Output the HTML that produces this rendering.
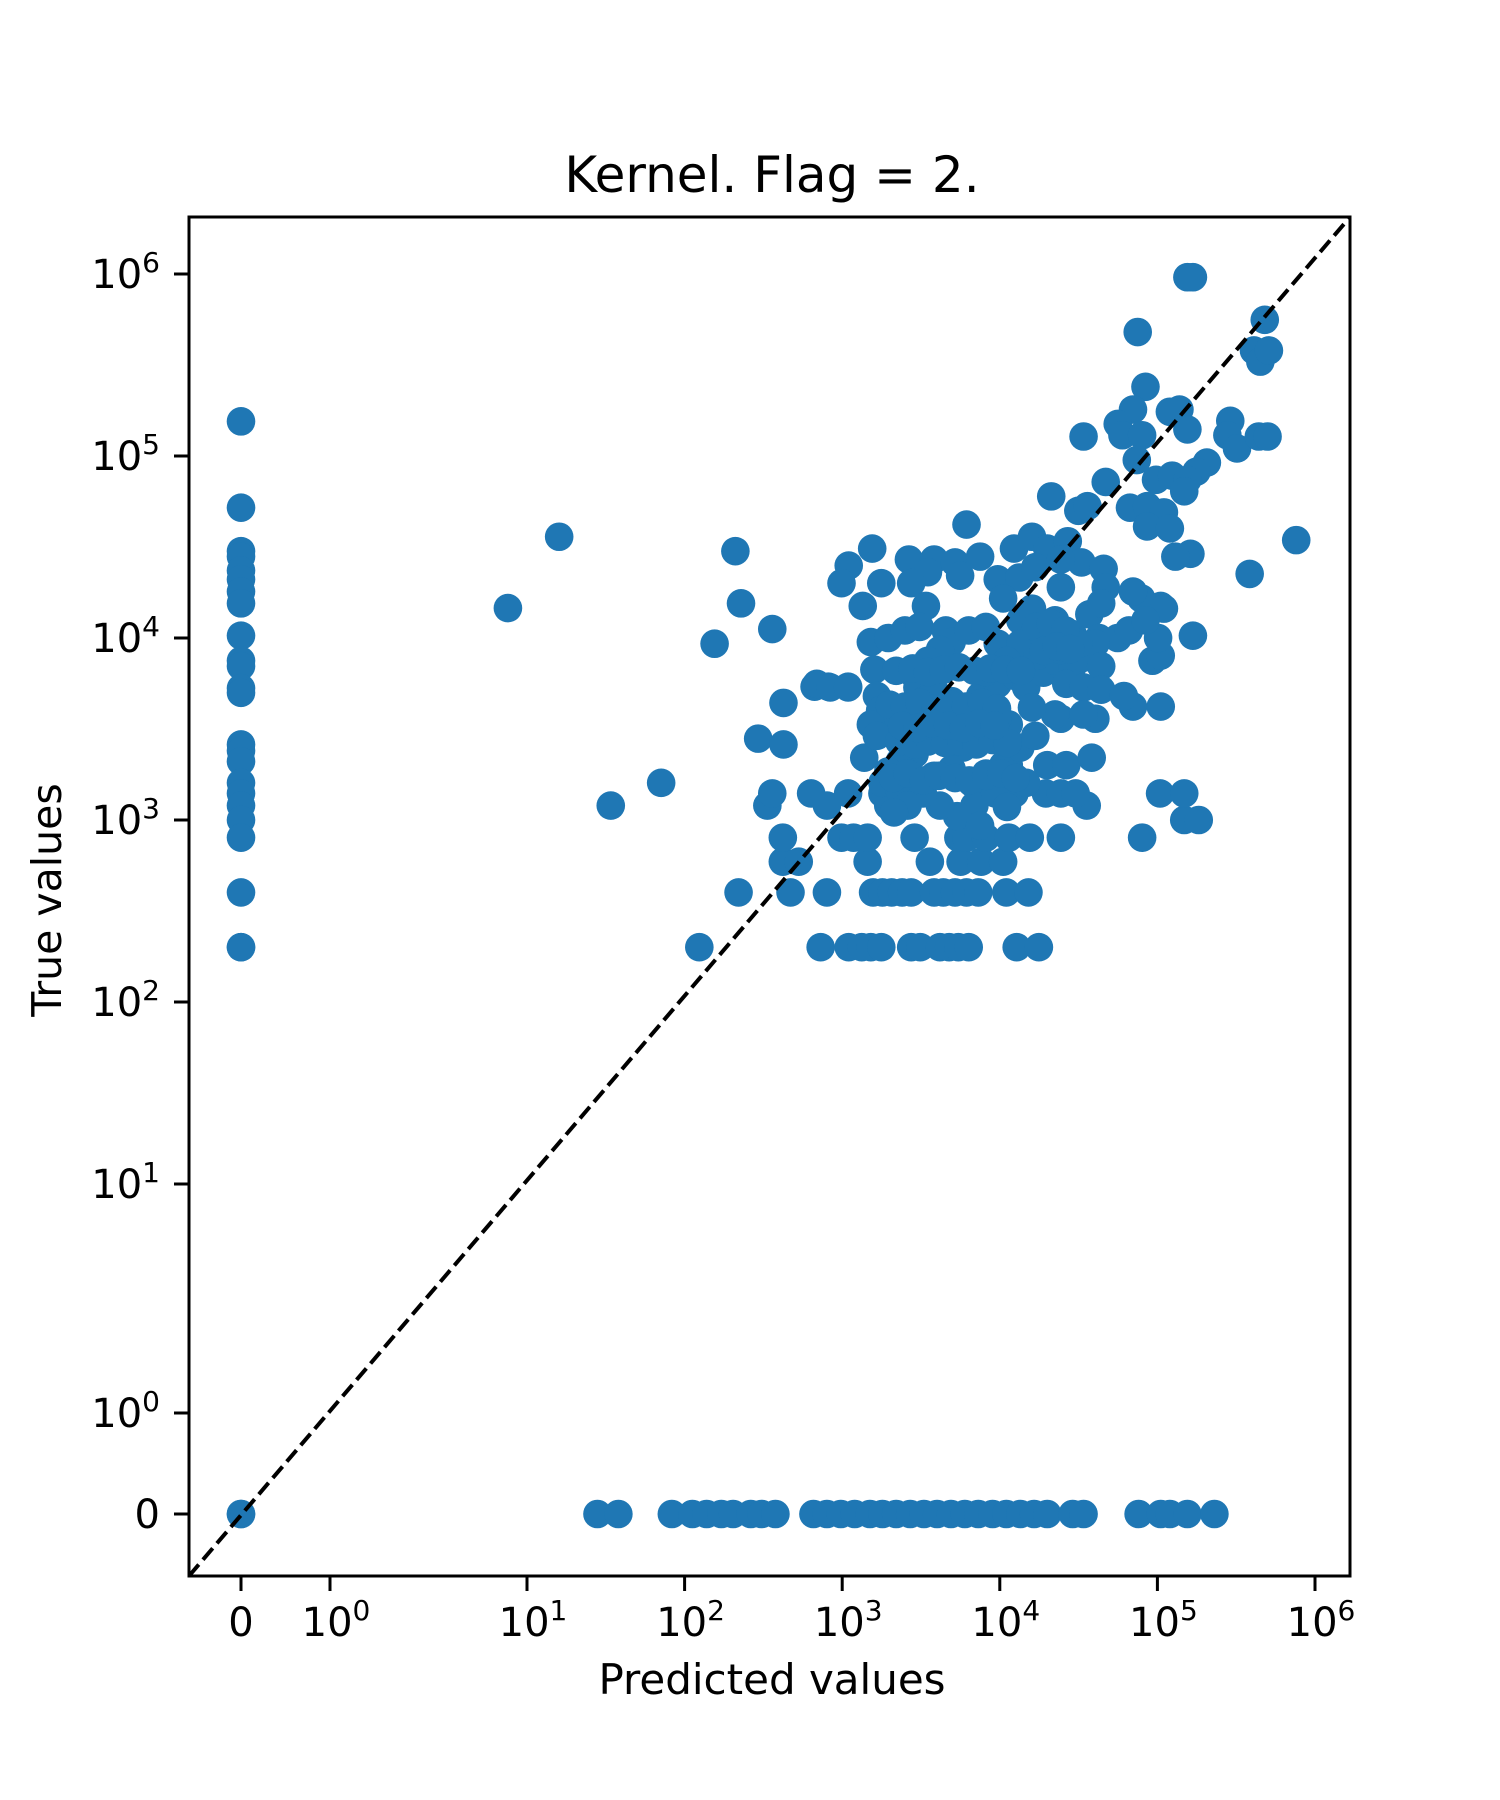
<!DOCTYPE html>
<html><head><meta charset="utf-8"><style>
html,body{margin:0;padding:0;background:#fff;}
svg{display:block;font-family:"DejaVu Sans","Liberation Sans",sans-serif;}
</style></head>
<body>
<svg id="chart" width="1500" height="1800" viewBox="0 0 1500 1800" xmlns="http://www.w3.org/2000/svg">
<rect x="0" y="0" width="1500" height="1800" fill="#fff"/>
<text x="772" y="192" font-size="50" text-anchor="middle">Kernel. Flag = 2.</text>
<g id="marks"></g>
<line x1="189" y1="1576" x2="1350" y2="217" stroke="#000" stroke-width="4" stroke-dasharray="15 6.5"/>
<rect x="189" y="217" width="1161" height="1359" fill="none" stroke="#000" stroke-width="3"/>
<g id="xticks"></g>
<g id="yticks"></g>
<text x="772" y="1694" font-size="42" text-anchor="middle">Predicted values</text>
<text x="0" y="0" font-size="41" text-anchor="middle" transform="translate(61,900) rotate(-90)">True values</text>
</svg>
<script>
const xTickValues = [0, 1, 10, 100, 1000, 10000, 100000, 1000000];
const xTickExps = ["", "0", "1", "2", "3", "4", "5", "6"];
const yTickValues = [0, 1, 10, 100, 1000, 10000, 100000, 1000000];
const yTickExps = ["", "0", "1", "2", "3", "4", "5", "6"];

const xVals = [
0,0,0,0,0,0,0,0,0,0,0,0,0,0,0,0,0,0,0,0,0,0,0,0,0,0,
28,38,83,112,138,171,203,263,308,377,657,800,980,1200,1500,1800,2200,2700,3300,4000,4900,6000,7300,9000,11000,13500,16500,20000,29000,34000,76000,105000,120000,155000,230000,
124,730,1100,1330,1520,1770,2740,3130,4170,4770,5460,6350,12800,17700,
220,470,800,1570,1800,2060,2400,2740,3830,4380,5200,6150,7300,11000,15200,
420,530,1450,3600,5640,7620,10500,
420,990,1180,1450,2880,5460,6150,8160,11400,15500,24400,80000,148000,183000,
34,335,800,1960,35600,360,635,1090,1800,19600,24400,30300,104000,148000,71,
20000,26400,38300,1380,293,424,24400,40400,70000,105000,424,668,817,1090,
93000,105000,168000,
155000,168000,75000,480000,410000,450000,510000,84000,70000,138000,56000,120000,34000,60000,80000,155000,290000,278000,320000,440000,500000,206000,177000,74000,47000,98000,124000,155000,148000,21200,31500,36000,67000,86000,110000,86000,120000,6150,16,210,760000,385000,162000,130000,8.0,228,360,155,
1550,1100,990,1770,1350,2650,3830,3500,5200,7500,5600,2740,3400,9700,12300,16000,20000,27000,33000,45600,47000,24400,13300,16800,10500,13500,17400,22400,29000,37000,44000,42500,56000,66000,101000,105000,79000,70000,110000,84000,
1520,1960,2500,3100,4540,4950,6350,8160,9700,4170,3500,2740,3000,1600,690,840,1090,1660,1740,2050,2440,3250,3830,4950,6350,7500,9700,12400,14700,18900,22400,29000,34000,40400,44000,26400,34000,44000,61300,34000,22400,16000,11400,8160,5850,4540,3500,2880,2320,1960,1800,2320,3000,3830,4950,6660,8160,10500,12400,14700,6900,5360,4170,3250,2600,2130,9350,11100,7500,11400,13500,16800,9700,6900,5360,4170,2520,3250,1520,1660,13500,17400,24400,31500,20600,11100,8160,16000,24400,
2100,2600,3300,4100,5200,6400,8200,10200,12600,2300,2900,3600,4500,5700,7100,9000,11200,2000,2500,3100,3900,4900,6100,7700,9600,2200,2800,3500,4400,5500,6900,8700,10800,13600,2400,3000,3700,4700,5900,7400,9300,17000,21000,26000,19000,23000,28000
];
const yVals = [
155000,52000,30000,28000,23500,21000,18000,15500,10300,7500,7000,5300,5000,2600,2400,2100,1600,1400,1200,1000,800,400,200,200,0,0,
0,0,0,0,0,0,0,0,0,0,0,0,0,0,0,0,0,0,0,0,0,0,0,0,0,0,0,0,0,0,0,0,0,0,0,
200,200,200,200,200,200,200,200,200,200,200,200,200,200,
400,400,400,400,400,400,400,400,400,400,400,400,400,400,400,
590,590,590,590,590,590,590,
800,800,800,800,800,800,800,800,800,800,800,800,1000,1000,
1200,1200,1200,1200,1200,1400,1400,1400,1400,1400,1400,1400,1400,1400,1600,
2000,2000,2200,2200,2800,2600,3600,3600,4200,4200,4400,5400,5400,5400,
7500,8000,10300,
960000,960000,480000,560000,380000,330000,380000,240000,180000,180000,150000,175000,128000,130000,130000,140000,156000,130000,110000,128000,128000,92000,82000,95000,72000,74000,78000,74000,64000,60000,50000,53000,52000,53000,49000,41000,40000,42000,36000,30000,34500,22500,29000,28000,14600,15500,11200,9300,
31000,25000,20000,20000,15000,27000,27000,23000,26000,28000,22000,20000,15000,21000,31000,36000,31000,34000,26000,24000,19000,27000,21500,24500,16500,12500,11000,12500,10500,13500,15500,10000,10000,11000,10000,15000,16500,18000,14500,12500,
9500,10000,11000,11500,11000,9500,11000,11500,9300,8600,7500,6500,5350,6700,5600,5350,5350,4800,4000,3450,3900,4500,5200,4500,3800,4800,5600,6200,5350,6450,7500,7000,7800,9300,7000,5600,5350,5200,4800,3800,3800,4150,3350,2900,2500,2900,2700,2300,2100,1850,1600,1450,1400,1750,1900,1600,1800,2000,1400,1600,1200,1050,1200,1400,1200,1100,1400,1180,930,2000,2500,2900,3600,3350,3350,3600,2900,3350,3350,2900,9300,8000,8600,9300,10000,7500,6500,14500,19000,
1700,1800,1650,1750,1700,1650,1750,1800,1700,2700,2600,2750,2650,2700,2600,2750,2650,4300,4200,4400,4100,4300,4200,4400,4100,6600,6800,6500,6700,6900,6600,6800,6700,6600,3300,3200,3400,3300,3200,3400,3300,11500,12000,11000,8500,9000,8700
];

function xScale(v){
  if (v <= 0) return 241;
  if (v < 1) return 241 + v*(330-241);
  const l = Math.log10(v);
  if (l <= 1) return 330 + l*(527-330);
  return 527 + (l-1)*157.6;
}
function yScale(v){
  if (v <= 0) return 1514;
  if (v < 1) return 1514 - v*(1514-1413);
  const l = Math.log10(v);
  if (l <= 1) return 1413 - l*(1413-1184);
  return 1184 - (l-1)*182;
}

const NS = "http://www.w3.org/2000/svg";
const marks = document.getElementById('marks');
for (let i = 0; i < xVals.length; i++) {
  const c = document.createElementNS(NS, 'circle');
  c.setAttribute('cx', xScale(xVals[i]));
  c.setAttribute('cy', yScale(yVals[i]));
  c.setAttribute('r', 14.3);
  c.setAttribute('fill', '#1f77b4');
  
  
  marks.appendChild(c);
}

function tickLabel(x, y, exp, anchor){
  const t = document.createElementNS(NS, 'text');
  t.setAttribute('x', x);
  t.setAttribute('y', y);
  t.setAttribute('font-size', 40);
  t.setAttribute('text-anchor', anchor);
  if (exp === "") {
    t.textContent = "0";
  } else {
    const a = document.createElementNS(NS, 'tspan');
    a.textContent = "10";
    const b = document.createElementNS(NS, 'tspan');
    b.setAttribute('font-size', 28);
    b.setAttribute('dy', -16);
    b.textContent = exp;
    t.appendChild(a); t.appendChild(b);
  }
  return t;
}

const xg = document.getElementById('xticks');
xTickValues.forEach((v, i) => {
  const x = xScale(v);
  const ln = document.createElementNS(NS, 'line');
  ln.setAttribute('x1', x); ln.setAttribute('x2', x);
  ln.setAttribute('y1', 1576); ln.setAttribute('y2', 1591);
  ln.setAttribute('stroke', '#000'); ln.setAttribute('stroke-width', 3);
  
  
  xg.appendChild(ln);
  const t = tickLabel(xTickExps[i] === "" ? x : x + 6, 1636, xTickExps[i], 'middle');
  
  
  xg.appendChild(t);
});

const yg = document.getElementById('yticks');
yTickValues.forEach((v, i) => {
  const y = yScale(v);
  const ln = document.createElementNS(NS, 'line');
  ln.setAttribute('x1', 174); ln.setAttribute('x2', 189);
  ln.setAttribute('y1', y); ln.setAttribute('y2', y);
  ln.setAttribute('stroke', '#000'); ln.setAttribute('stroke-width', 3);
  
  
  yg.appendChild(ln);
  const t = tickLabel(160, y + 14, yTickExps[i], 'end');
  
  
  yg.appendChild(t);
});
</script>
</body></html>
